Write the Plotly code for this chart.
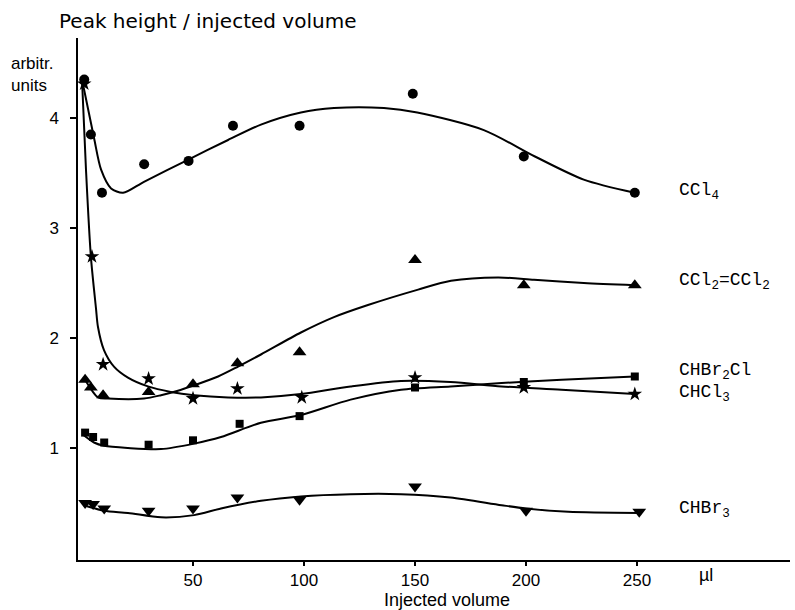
import plotly.graph_objects as go

# ---- measured points (x = injected volume in µl, y = peak height / volume, arbitrary units)
ccl4_x = [1, 4, 9, 28, 48, 68, 98, 149, 199, 249]
ccl4_y = [4.35, 3.85, 3.32, 3.58, 3.61, 3.93, 3.93, 4.22, 3.65, 3.32]

c2cl4_x = [1.4, 4, 9.5, 30, 50, 70, 98, 150, 199, 249]
c2cl4_y = [1.62, 1.55, 1.48, 1.51, 1.58, 1.77, 1.87, 2.71, 2.48, 2.48]

chcl3_x = [1, 4.5, 9.5, 30, 50, 70, 99, 150, 199, 249]
chcl3_y = [4.31, 2.74, 1.76, 1.63, 1.45, 1.54, 1.46, 1.64, 1.55, 1.49]

chbr2cl_x = [1.4, 5, 10, 30, 50, 71, 98, 150, 199, 249]
chbr2cl_y = [1.14, 1.10, 1.05, 1.03, 1.07, 1.22, 1.29, 1.55, 1.60, 1.65]

chbr3_x = [1.4, 5, 10, 30, 50, 70, 98, 150, 200, 251]
chbr3_y = [0.50, 0.49, 0.45, 0.43, 0.45, 0.55, 0.53, 0.65, 0.43, 0.42]

# ---- hand-drawn fitted curves
ccl4_cx = [0, 5.4, 8.6, 13.1, 18.5, 27.9, 47.7, 65.8, 80.6, 98.6, 113.5, 136, 151, 181, 204, 226, 249]
ccl4_cy = [4.35, 3.82, 3.53, 3.36, 3.32, 3.42, 3.62, 3.80, 3.94, 4.05, 4.09, 4.09, 4.05, 3.89, 3.65, 3.44, 3.32]

c2cl4_cx = [1.4, 7.2, 11.7, 27.9, 35.6, 43.2, 50.5, 61.3, 70.3, 80.6, 98.6, 113.5, 128.8, 151.4, 166.2, 187.4, 203.6, 226, 249]
c2cl4_cy = [1.62, 1.46, 1.45, 1.45, 1.48, 1.52, 1.57, 1.65, 1.74, 1.85, 2.05, 2.19, 2.30, 2.44, 2.52, 2.55, 2.53, 2.50, 2.48]

chcl3_cx = [0, 1.8, 4, 6.3, 7.2, 9.9, 14.4, 20.7, 29.7, 40, 50.5, 65.8, 80.6, 98.6, 121, 143.7, 166, 189, 216, 249]
chcl3_cy = [4.35, 3.53, 2.74, 2.27, 2.10, 1.89, 1.74, 1.64, 1.56, 1.51, 1.48, 1.46, 1.46, 1.49, 1.56, 1.61, 1.60, 1.56, 1.53, 1.49]

chbr2cl_cx = [0.5, 5.4, 9.9, 20.7, 35.6, 50.5, 62.6, 80.6, 98.6, 121, 143.7, 166, 189, 216, 249]
chbr2cl_cy = [1.12, 1.05, 1.02, 1.00, 0.99, 1.04, 1.10, 1.23, 1.30, 1.44, 1.53, 1.56, 1.59, 1.62, 1.65]

chbr3_cx = [0.8, 9.9, 20.7, 35.6, 50.5, 62.6, 80.6, 98.6, 121, 143.7, 166, 189, 200, 219, 251]
chbr3_cy = [0.48, 0.43, 0.41, 0.37, 0.39, 0.45, 0.52, 0.56, 0.58, 0.58, 0.55, 0.48, 0.45, 0.42, 0.41]

x_ticks = [50, 100, 150, 200, 250]
y_ticks = [1, 2, 3, 4]

labels = ["CCl<sub>4</sub>", "CCl<sub>2</sub>=CCl<sub>2</sub>", "CHBr<sub>2</sub>Cl",
          "CHCl<sub>3</sub>", "CHBr<sub>3</sub>"]
label_y = [3.33, 2.51, 1.70, 1.50, 0.44]

# pixel geometry of the plot area
L, R, T, B = 78, 5, 38, 50
W, H = 795, 610
PW, PH = W - L - R, H - T - B


def px(xp):
    return (xp - L) / PW


def py(yp):
    return (H - B - yp) / PH


fig = go.Figure()

curves = [(ccl4_cx, ccl4_cy), (c2cl4_cx, c2cl4_cy), (chcl3_cx, chcl3_cy),
          (chbr2cl_cx, chbr2cl_cy), (chbr3_cx, chbr3_cy)]
for cx, cy in curves:
    fig.add_trace(go.Scatter(x=cx, y=cy, mode="lines",
                             line=dict(color="black", width=2, shape="spline", smoothing=0.8),
                             hoverinfo="skip", showlegend=False))

points = [(ccl4_x, ccl4_y, "circle", 10), (c2cl4_x, c2cl4_y, "triangle-up", 12),
          (chcl3_x, chcl3_y, "star", 11), (chbr2cl_x, chbr2cl_y, "square", 8),
          (chbr3_x, chbr3_y, "triangle-down", 12)]
for xs, ys, sym, sz in points:
    fig.add_trace(go.Scatter(x=xs, y=ys, mode="markers",
                             marker=dict(symbol=sym, size=sz, color="black"),
                             showlegend=False))

ann = []
for t, yy in zip(labels, label_y):
    ann.append(dict(x=px(677), y=yy, xref="paper", yref="y", text=t, showarrow=False,
                    xanchor="left", yanchor="middle",
                    font=dict(family="Liberation Mono", size=18, color="black")))

ann += [
    dict(x=px(57), y=py(21), xref="paper", yref="paper",
         text="Peak height / injected volume", showarrow=False, xanchor="left", yanchor="middle",
         font=dict(family="DejaVu Sans", size=20, color="black")),
    dict(x=px(9), y=py(74), xref="paper", yref="paper",
         text="arbitr.<br>units", showarrow=False, xanchor="left", yanchor="middle", align="left",
         font=dict(family="Liberation Sans", size=17, color="black")),
    dict(x=px(706), y=py(575), xref="paper", yref="paper",
         text="µl", showarrow=False, xanchor="center", yanchor="middle",
         font=dict(family="Liberation Sans", size=18, color="black")),
    dict(x=px(447), y=py(600), xref="paper", yref="paper",
         text="Injected volume", showarrow=False, xanchor="center", yanchor="middle",
         font=dict(family="Liberation Sans", size=18, color="black")),
]

fig.update_layout(
    width=W, height=H,
    margin=dict(l=L, r=R, t=T, b=B),
    paper_bgcolor="white", plot_bgcolor="white",
    annotations=ann,
    xaxis=dict(range=[-1.8, 318.9], tickvals=x_ticks, showgrid=False, zeroline=False,
               showline=True, linecolor="black", linewidth=1.5,
               ticks="outside", ticklen=4, tickwidth=1.5, tickcolor="black",
               tickfont=dict(family="Liberation Sans", size=17, color="black")),
    yaxis=dict(range=[-0.018, 4.727], tickvals=y_ticks, showgrid=False, zeroline=False,
               showline=True, linecolor="black", linewidth=1.5,
               ticks="outside", ticklen=6, tickwidth=1.5, tickcolor="black",
               ticklabelstandoff=8,
               tickfont=dict(family="Liberation Sans", size=17, color="black")),
)

fig.write_html("out.html")
